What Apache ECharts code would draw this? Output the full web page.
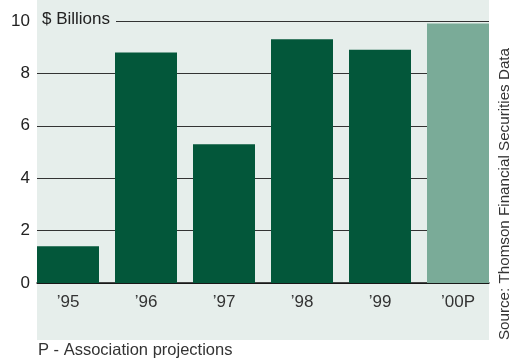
<!DOCTYPE html>
<html>
<head>
<meta charset="utf-8">
<script src="https://cdn.jsdelivr.net/npm/echarts@6/dist/echarts.min.js"></script>
<style>
  html, body { margin: 0; padding: 0; background: #ffffff; }
  #chart { width: 510px; height: 360px; }
</style>
</head>
<body>
<div id="chart"></div>
<script>
// Annual volume, $ billions ('00 is a projection)
const categories = ['\u201995', '\u201996', '\u201997', '\u201998', '\u201999', '\u201900P'];
const actualValues = [1.4, 8.8, 5.3, 9.3, 8.9, null];
const projectedValues = [null, null, null, null, null, 9.9];
const yTicks = [0, 2, 4, 6, 8, 10];

const FONT = '"Liberation Sans", Arial, sans-serif';
const PANEL = '#e6eeeb';
const DARK = '#03573a';
const LIGHT = '#7aab98';

const chart = echarts.init(document.getElementById('chart'), null, { renderer: 'canvas' });

chart.setOption({
  animation: false,
  backgroundColor: '#ffffff',
  graphic: [
    { type: 'rect', z: -10, silent: true,
      shape: { x: 37, y: 0, width: 452, height: 340 },
      style: { fill: PANEL } },
    { type: 'rect', z: 50, silent: true,
      shape: { x: 37, y: 12, width: 79, height: 18 },
      style: { fill: PANEL } },
    { type: 'text', z: 51, silent: true, left: 42, top: 11,
      style: { text: '$ Billions', font: '17px ' + FONT, fill: '#222222' } },
    { type: 'text', z: 51, silent: true, rotation: Math.PI / 2,
      left: 497, top: 48,
      style: { text: 'Source: Thomson Financial Securities Data', font: '15.2px ' + FONT, fill: '#333333' } },
    { type: 'text', z: 51, silent: true, left: 38, top: 342,
      style: { text: 'P - Association projections', font: '16.5px ' + FONT, fill: '#333333' } }
  ],
  grid: [
    { left: 37, right: 21, top: 21, bottom: 77 },
    { left: 29, right: 13, top: 21, bottom: 77 }
  ],
  xAxis: [
    { type: 'value', gridIndex: 0, min: 0, max: 1,
      axisLine: { show: true, lineStyle: { color: '#111111', width: 1.5 } },
      axisTick: { show: false }, axisLabel: { show: false }, splitLine: { show: false } },
    { type: 'category', gridIndex: 1, data: categories,
      axisLine: { show: false }, axisTick: { show: false },
      axisLabel: { margin: 11, fontFamily: FONT, fontSize: 17, color: '#333333' } }
  ],
  yAxis: [
    { type: 'value', gridIndex: 0, min: yTicks[0], max: yTicks[yTicks.length - 1], interval: 2,
      axisLine: { show: false }, axisTick: { show: false },
      axisLabel: { margin: 7, fontFamily: FONT, fontSize: 17, color: '#222222' },
      splitLine: { show: true, lineStyle: { color: '#333333', width: 1 } } },
    { type: 'value', gridIndex: 1, min: yTicks[0], max: yTicks[yTicks.length - 1], interval: 2,
      show: false, splitLine: { show: false } }
  ],
  series: [
    { type: 'bar', xAxisIndex: 1, yAxisIndex: 1, data: actualValues,
      barWidth: 62, barGap: '-100%', itemStyle: { color: DARK }, z: 5 },
    { type: 'bar', xAxisIndex: 1, yAxisIndex: 1, data: projectedValues,
      barWidth: 62, barGap: '-100%', itemStyle: { color: LIGHT }, z: 5 }
  ]
});
</script>
</body>
</html>
